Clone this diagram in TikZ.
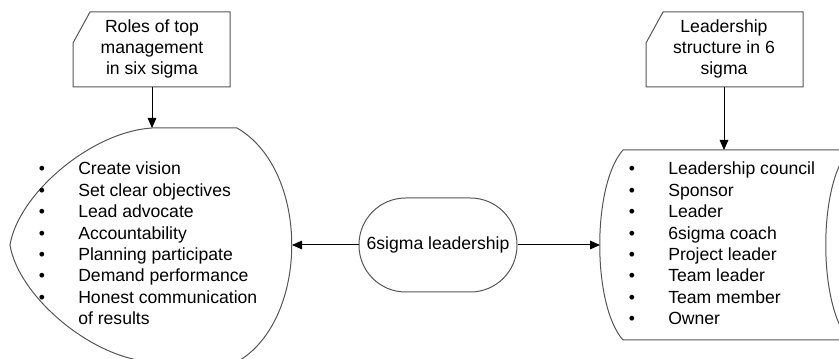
\documentclass[tikz,border=0pt]{standalone}
\usepackage{fontspec}
\setmainfont{Liberation Sans}
\usetikzlibrary{arrows.meta}

\begin{document}
\begin{tikzpicture}[x=0.75pt,y=0.75pt,yscale=-1,xscale=1,
  boxline/.style={draw={rgb,255:red,85;green,85;blue,85},line width=0.75pt},
  flow/.style={draw=black,line width=0.75pt,-{Triangle[length=7.5pt,width=6.5pt]}},
  txt/.style={font=\fontsize{13.2}{16}\selectfont,inner sep=0pt},
  entry/.style={txt,anchor=base west}]
\clip (0,0) rectangle (839,359);

%Shape: Card [roles of top management]
\draw [boxline] (73,43) -- (90,12) -- (230,12) -- (230,87) -- (73,87) -- cycle ;
% Text Node
\draw (152,49) node [txt,align=center] (rolescard) {Roles of top\\management\\in six sigma};
\coordinate (rolesout) at (152,87);

%Shape: Card [leadership structure]
\draw [boxline] (646,43) -- (663,12) -- (803,12) -- (803,87) -- (646,87) -- cycle ;
% Text Node
\draw (724,49) node [txt,align=center] (structcard) {Leadership\\structure in 6\\sigma};
\coordinate (structout) at (724,87);

%Shape: Display [roles list]
\draw [boxline] (152,128) -- (237,128) .. controls (310,170) and (310,320) .. (237,362) -- (152,362)
  .. controls (90,358) and (18,295) .. (10,245) .. controls (18,195) and (90,132) .. (152,128) -- cycle ;
\coordinate (rolesin) at (152,128);
\coordinate (rolesside) at (292,245);

%Shape: Stored Data [structure list]
\draw [boxline] (623,150) -- (849,150) .. controls (818,185) and (818,305) .. (849,340) -- (623,340)
  .. controls (592,305) and (592,185) .. (623,150) -- cycle ;
\coordinate (structin) at (724,150);
\coordinate (structside) at (600,245);

%Shape: Terminator
\node [boxline,txt,rounded corners=35pt,minimum width=118.5pt,minimum height=70.5pt] (lead) at (438,245) {6sigma leadership};

%Straight Lines
\draw [flow] (rolesout) -- (rolesin) ;
\draw [flow] (structout) -- (structin) ;
\draw [flow] (lead) -- (rolesside) ;
\draw [flow] (lead) -- (structside) ;

% Text Node
\foreach \t [count=\i] in {Create vision,Set clear objectives,Lead advocate,Accountability,Planning participate,Demand performance,Honest communication}
  {\node [txt,anchor=base] (rolebul\i) at (42,{153.6+21.4*\i}) {\textbullet};
   \node [entry] (role\i) at (78,{153.6+21.4*\i}) {\t};}
\node [entry] (role8) at (78,324.8) {of results};

% Text Node
\foreach \t [count=\i] in {Leadership council,Sponsor,Leader,6sigma coach,Project leader,Team leader,Team member,Owner}
  {\node [txt,anchor=base] (structbul\i) at (632,{153.6+21.4*\i}) {\textbullet};
   \node [entry] (struct\i) at (668,{153.6+21.4*\i}) {\t};}

\end{tikzpicture}
\end{document}
